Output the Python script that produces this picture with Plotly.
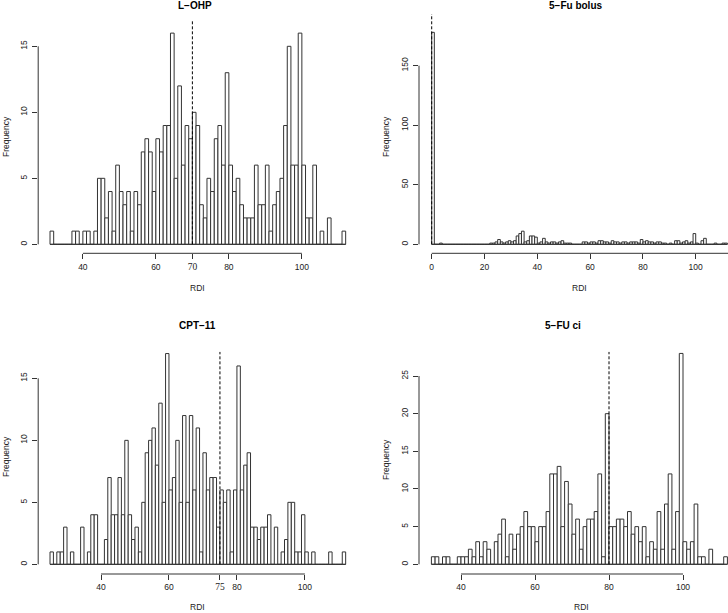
import plotly.graph_objects as go

W, H = 728, 613

# ---------------- data (counts per 1-unit RDI bin) ----------------
lohp_first_bin = 31
lohp_counts = [1, 0, 0, 0, 0, 0, 1, 1, 0, 1,
               1, 0, 1, 5, 5, 2, 4, 1, 6, 4,
               3, 4, 1, 4, 3, 7, 8, 7, 4, 8,
               7, 9, 9, 16, 5, 12, 6, 9, 8, 10,
               9, 3, 2, 5, 4, 8, 9, 6, 13, 6,
               4, 5, 3, 2, 2, 2, 6, 3, 3, 6,
               1, 3, 4, 5, 9, 15, 6, 6, 16, 6,
               2, 2, 6, 0, 1, 0, 2, 0, 0, 0,
               1]

bolus_first_bin = 0
bolus_counts = [178, 0, 0, 1, 0, 0, 0, 0, 0, 0,
                0, 0, 0, 0, 0, 0, 0, 0, 0, 0,
                0, 0, 1, 1, 2, 4, 2, 1, 2, 3,
                2, 3, 7, 9, 11, 2, 3, 7, 7, 6,
                1, 2, 5, 2, 1, 2, 2, 1, 2, 3,
                1, 1, 1, 0, 0, 0, 0, 2, 2, 1,
                2, 2, 1, 3, 3, 2, 2, 1, 3, 2,
                2, 1, 2, 2, 1, 2, 2, 2, 1, 4,
                2, 3, 2, 2, 1, 2, 2, 1, 1, 0,
                1, 0, 3, 3, 1, 2, 3, 1, 2, 9,
                1, 0, 3, 5, 0, 0, 0, 1, 0, 0,
                1, 1]

cpt_first_bin = 25
cpt_counts = [1, 0, 1, 1, 3, 0, 1, 0, 0, 3,
              0, 1, 4, 4, 0, 0, 2, 7, 4, 4,
              7, 4, 10, 4, 2, 3, 1, 5, 9, 10,
              11, 8, 13, 5, 17, 6, 7, 10, 5, 12,
              5, 12, 6, 11, 1, 9, 6, 7, 7, 3,
              6, 5, 6, 1, 6, 16, 6, 8, 9, 3,
              3, 2, 3, 3, 4, 0, 3, 0, 1, 2,
              5, 5, 1, 1, 4, 1, 0, 1, 0, 0,
              0, 0, 1, 0, 0, 0, 1]

ci_first_bin = 32
ci_counts = [1, 1, 0, 1, 1, 0, 0, 1, 1, 1,
             2, 1, 3, 1, 3, 2, 0, 3, 4, 6,
             1, 4, 2, 4, 5, 7, 5, 5, 3, 5,
             5, 7, 12, 12, 13, 5, 11, 8, 4, 6,
             2, 5, 6, 6, 7, 12, 1, 20, 5, 5,
             6, 6, 5, 7, 4, 5, 3, 5, 1, 3,
             2, 7, 2, 8, 12, 2, 7, 28, 3, 2,
             3, 8, 1, 1, 0, 2, 0, 0, 0, 1]

titles = ["L\u2212OHP", "5\u2212Fu bolus", "CPT\u221211", "5\u2212FU ci"]
target_rdi = [70, 0, 75, 80]
x_tick_values = [[40, 60, 70, 80, 100], [0, 20, 40, 60, 80, 100, 120],
                 [40, 60, 75, 80, 100], [40, 60, 80, 100]]
serif_tick = [70, None, 75, None]
y_tick_values = [[0, 5, 10, 15], [0, 50, 100, 150],
                 [0, 5, 10, 15], [0, 5, 10, 15, 20, 25]]
x_label = "RDI"
y_label = "Frequency"

series = [(lohp_first_bin, lohp_counts), (bolus_first_bin, bolus_counts),
          (cpt_first_bin, cpt_counts), (ci_first_bin, ci_counts)]

# ---------------- layout geometry (pixels) ----------------
geom = [
    dict(xpx=(38.2, 357.5), xr=(27.76, 115.24), ypx=(20.7, 253.3), yr=(-0.68, 16.94),
         title_xy=(195, 5.5), rdi_xy=(197, 287.5), freq_xy=(6, 137)),
    dict(xpx=(419, 728), xr=(-4.81, 112.23), ypx=(14, 253.3), yr=(-7.56, 193.4),
         title_xy=(576, 5.5), rdi_xy=(579, 287.5), freq_xy=(386, 137)),
    dict(xpx=(38.2, 357.5), xr=(21.52, 115.48), ypx=(351.7, 574), yr=(-0.78, 17.15),
         title_xy=(198, 325), rdi_xy=(197, 607), freq_xy=(6, 457)),
    dict(xpx=(419, 728), xr=(28.65, 112.16), ypx=(351.7, 574), yr=(-1.29, 28.23),
         title_xy=(563, 325), rdi_xy=(581, 607), freq_xy=(386, 460)),
]

FONT = "Liberation Sans, Arial, Helvetica, sans-serif"
INK = "#222222"
EDGE = "#333333"


def px2paper_x(px):
    return px / W


def px2paper_y(py):
    return 1 - py / H


fig = go.Figure()
shapes = []
annotations = []
layout_axes = {}

for i, ((first, counts), g) in enumerate(zip(series, geom)):
    n = i + 1
    xa = "x" if n == 1 else f"x{n}"
    ya = "y" if n == 1 else f"y{n}"
    xkey = "xaxis" if n == 1 else f"xaxis{n}"
    ykey = "yaxis" if n == 1 else f"yaxis{n}"

    lefts = [first + k for k in range(len(counts))]
    centers = [b + 0.5 for b in lefts]

    # baseline (zero-count bins drawn as a flat line, as in base R hist)
    fig.add_trace(go.Scatter(x=[lefts[0], lefts[-1] + 1], y=[0, 0], mode="lines",
                             line=dict(color=EDGE, width=1), xaxis=xa, yaxis=ya,
                             hoverinfo="skip", showlegend=False))
    fig.add_trace(go.Bar(x=centers, y=counts, width=1, xaxis=xa, yaxis=ya,
                         marker=dict(color="white", line=dict(color=EDGE, width=1)),
                         showlegend=False))

    xd = (px2paper_x(g["xpx"][0]), px2paper_x(g["xpx"][1]))
    yd = (px2paper_y(g["ypx"][1]), px2paper_y(g["ypx"][0]))

    ticktext = []
    for v in x_tick_values[i]:
        if serif_tick[i] is not None and v == serif_tick[i]:
            ticktext.append(f"<span style=\"font-family:'Liberation Serif',serif;font-size:9.5px\">{v}</span>")
        else:
            ticktext.append(str(v))

    layout_axes[xkey] = dict(domain=list(xd), range=list(g["xr"]), anchor=ya,
                             showgrid=False, zeroline=False, showline=False,
                             ticks="outside", ticklen=5, tickwidth=1, tickcolor=EDGE,
                             tickvals=x_tick_values[i], ticktext=ticktext,
                             tickfont=dict(family=FONT, size=8.5, color=INK),
                             ticklabelstandoff=0, fixedrange=True)
    layout_axes[ykey] = dict(domain=list(yd), range=list(g["yr"]), anchor=xa,
                             showgrid=False, zeroline=False, showline=False,
                             ticks="outside", ticklen=5, tickwidth=1, tickcolor=EDGE,
                             tickvals=y_tick_values[i], tickangle=-90,
                             tickfont=dict(family=FONT, size=8.5, color=INK),
                             ticklabelstandoff=2, fixedrange=True)

    # axis lines spanning first..last tick (R style), in paper coords
    def dx2p(v):
        return xd[0] + (v - g["xr"][0]) / (g["xr"][1] - g["xr"][0]) * (xd[1] - xd[0])

    def dy2p(v):
        return yd[0] + (v - g["yr"][0]) / (g["yr"][1] - g["yr"][0]) * (yd[1] - yd[0])

    xt = x_tick_values[i]
    yt = y_tick_values[i]
    shapes.append(dict(type="line", xref="paper", yref="paper",
                       x0=dx2p(xt[0]), x1=min(dx2p(xt[-1]), 1.0), y0=yd[0], y1=yd[0],
                       line=dict(color=EDGE, width=1)))
    shapes.append(dict(type="line", xref="paper", yref="paper",
                       x0=xd[0], x1=xd[0], y0=dy2p(yt[0]), y1=dy2p(yt[-1]),
                       line=dict(color=EDGE, width=1)))
    # dashed target line
    shapes.append(dict(type="line", xref=xa, yref=ya, x0=target_rdi[i], x1=target_rdi[i],
                       y0=0, y1=g["yr"][1], line=dict(color="black", width=1, dash="3px,2px")))

    annotations.append(dict(text=f"<b>{titles[i]}</b>", xref="paper", yref="paper",
                            x=px2paper_x(g["title_xy"][0]), y=px2paper_y(g["title_xy"][1]),
                            xanchor="center", yanchor="middle", showarrow=False,
                            font=dict(family=FONT, size=10, color="black")))
    annotations.append(dict(text=x_label, xref="paper", yref="paper",
                            x=px2paper_x(g["rdi_xy"][0]), y=px2paper_y(g["rdi_xy"][1]),
                            xanchor="center", yanchor="middle", showarrow=False,
                            font=dict(family=FONT, size=8.5, color=INK)))
    annotations.append(dict(text=y_label, xref="paper", yref="paper", textangle=-90,
                            x=px2paper_x(g["freq_xy"][0]), y=px2paper_y(g["freq_xy"][1]),
                            xanchor="center", yanchor="middle", showarrow=False,
                            font=dict(family=FONT, size=8.5, color=INK)))

fig.update_layout(width=W, height=H, margin=dict(l=0, r=0, t=0, b=0),
                  paper_bgcolor="white", plot_bgcolor="white", showlegend=False,
                  bargap=0, hovermode=False, shapes=shapes, annotations=annotations,
                  **layout_axes)

fig.write_html("out.html",
               config={"displayModeBar": False, "staticPlot": True},
               post_script="document.body.style.margin='0px';document.body.style.padding='0px';"
                           "document.documentElement.style.overflow='hidden';")
